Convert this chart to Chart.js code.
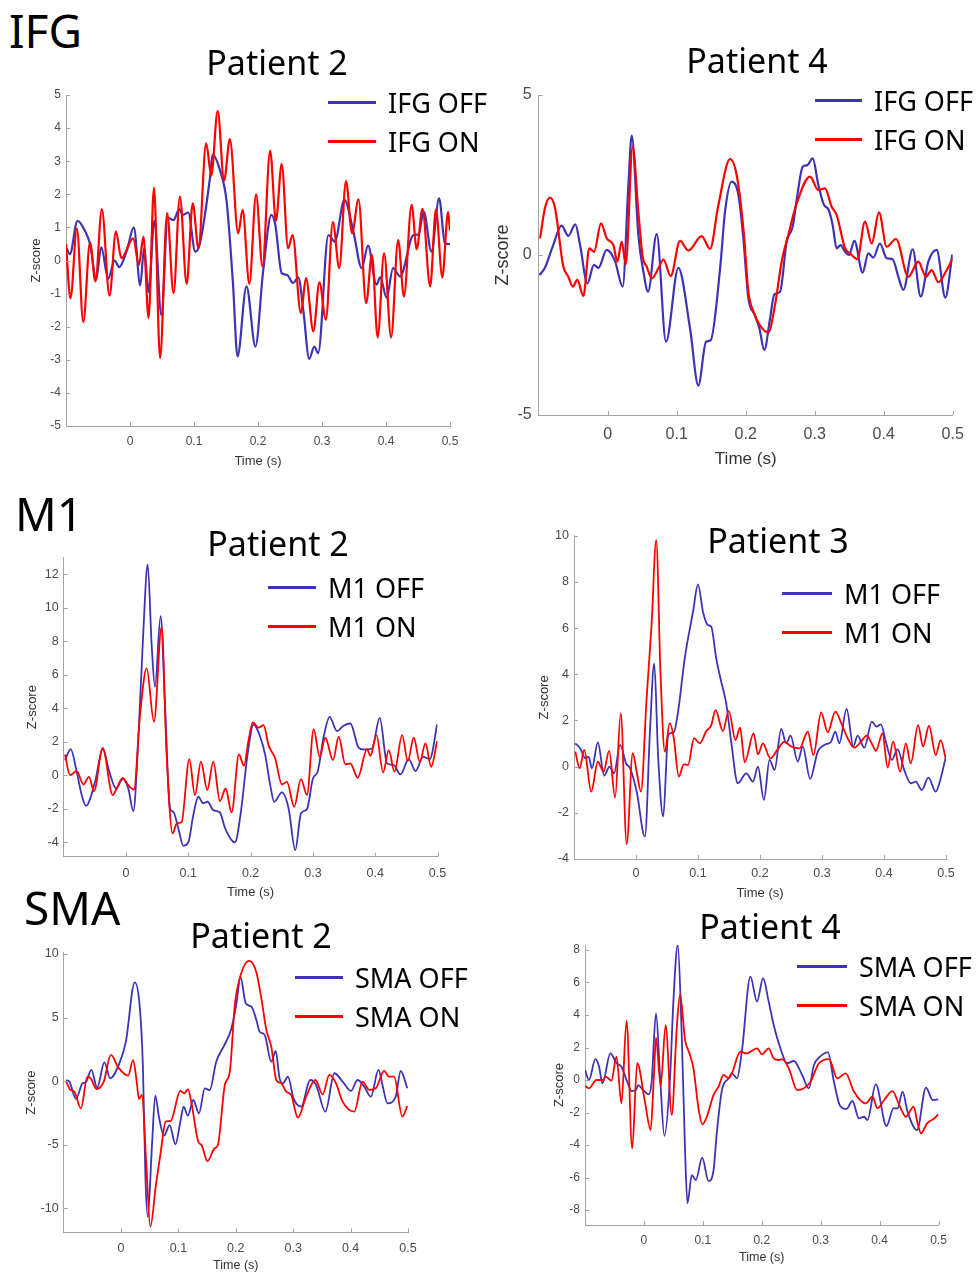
<!DOCTYPE html>
<html>
<head>
<meta charset="utf-8">
<title>IFG / M1 / SMA z-scores</title>
<script src="https://cdn.jsdelivr.net/npm/chart.js@4.4.1/dist/chart.umd.min.js"></script>
<style>
  html, body { margin: 0; padding: 0; background: #fff; overflow: hidden; }
  #page { position: relative; width: 978px; height: 1275px; background: #fff; font-family: 'Noto Sans', sans-serif; color: #000; }
  #page canvas { position: absolute; z-index: 1; }
  .txt { position: absolute; white-space: nowrap; line-height: 1; z-index: 2; }
  .key { position: absolute; z-index: 2; }
</style>
</head>
<body>
<div id="page"></div>
<script>
/* =====================================================
   Six z-score traces (OFF = blue, ON = red), time in s
   ===================================================== */

// ---- IFG, patient 2 ----
const ifgP2OffT = [-0.099,-0.094,-0.082,-0.070,-0.062,-0.053,-0.045,-0.034,-0.024,-0.017,
  -0.005,0.006,0.016,0.022,0.029,0.038,0.049,0.059,0.068,0.077,
  0.083,0.091,0.102,0.109,0.125,0.129,0.141,0.151,0.161,0.168,
  0.182,0.196,0.208,0.221,0.227,0.237,0.245,0.255,0.263,0.271,
  0.280,0.288,0.294,0.310,0.320,0.335,0.349,0.362,0.372,0.385,
  0.391,0.401,0.411,0.422,0.443,0.451,0.459,0.471,0.483,0.492,
  0.500];
const ifgP2OffZ = [0.37,0.19,1.2,0.88,0.47,-0.58,0.4,-0.55,0.0,-0.2,
  0.3,1.0,-0.75,0.37,-0.95,1.2,-1.65,1.3,1.22,1.55,
  1.38,1.45,0.27,0.5,2.5,3.2,2.7,1.78,-0.73,-2.9,
  -0.78,-2.6,-0.33,1.38,1.08,-0.38,-0.43,-0.68,-0.51,-1.54,
  -2.97,-2.6,-2.8,0.77,0.57,1.83,0.88,-0.23,0.45,-0.73,
  -0.51,-1.12,-0.23,-0.48,0.77,0.79,1.48,0.27,1.88,0.52,
  0.49];
const ifgP2OnT = [-0.1,-0.093,-0.083,-0.073,-0.0625,-0.054,-0.044,-0.032,-0.022,-0.0135,
  0.005,0.014,0.021,0.029,0.0375,0.047,0.058,0.068,0.078,0.0885,
  0.098,0.107,0.119,0.127,0.137,0.147,0.156,0.169,0.176,0.1865,
  0.197,0.207,0.219,0.228,0.237,0.247,0.254,0.267,0.275,0.2865,
  0.296,0.306,0.317,0.327,0.3375,0.347,0.357,0.369,0.378,0.387,
  0.397,0.408,0.419,0.428,0.44,0.448,0.457,0.469,0.478,0.488,
  0.497,0.5];
const ifgP2OnZ = [0.5,-1.14,0.96,-1.86,0.55,-0.63,1.55,-1.06,0.88,0.07,
  0.67,-0.13,0.72,-1.74,2.2,-2.95,1.43,-0.99,1.93,-0.71,
  1.73,0.37,3.54,2.57,4.52,2.41,3.67,0.82,1.53,-0.71,
  2.0,-0.18,3.32,1.2,2.92,0.37,0.77,-1.59,-0.53,-2.14,
  -0.66,-1.79,1.16,-0.23,2.4,0.82,1.85,-1.29,0.17,-2.32,
  0.22,-2.32,0.62,-1.09,1.68,0.34,1.56,-0.78,1.54,-0.51,
  1.46,0.9];

// ---- IFG, patient 4 ----
const ifgP4OffT = [-0.099,-0.091,-0.079,-0.067,-0.057,-0.047,-0.040,-0.0295,-0.020,-0.0135,
  -0.0014,0.0106,0.0217,0.030,0.0348,0.0444,0.0517,0.0585,0.071,0.0845,
  0.1024,0.1193,0.1314,0.1425,0.1493,0.163,0.170,0.1797,0.1894,0.1966,
  0.2039,0.2135,0.2198,0.227,0.2353,0.2415,0.2498,0.2594,0.2681,0.2749,
  0.2826,0.2894,0.2971,0.3053,0.3135,0.3198,0.326,0.3318,0.3376,0.344,
  0.3497,0.3575,0.3695,0.3777,0.385,0.3946,0.4043,0.413,0.4212,0.4285,
  0.442,0.4536,0.4647,0.4768,0.4893,0.4995];
const ifgP4OffZ = [-0.63,-0.4,0.31,0.92,0.6,0.96,0.31,-0.89,-0.31,-0.4,
  0.16,-0.19,-0.99,2.19,3.73,0.63,-0.52,-1.15,0.65,-2.71,
  -0.4,-2.29,-4.08,-2.71,-2.66,-0.4,1.35,2.29,1.88,0.52,
  -1.35,-1.88,-2.29,-2.97,-1.98,-1.23,-1.15,0.42,0.89,1.88,
  2.76,2.81,3.02,2.19,1.56,1.43,0.94,0.21,0.31,0.1,
  0.0,0.44,-0.55,0.05,-0.08,0.36,-0.1,-0.13,-0.68,-1.09,
  0.18,-1.3,-0.21,0.16,-1.33,0.02];
const ifgP4OnT = [-0.098,-0.091,-0.0836,-0.0763,-0.0643,-0.057,-0.0507,-0.044,-0.0353,-0.0266,
  -0.0198,-0.0097,-0.0014,0.0082,0.014,0.0203,0.0261,0.0362,0.0444,0.0507,
  0.0565,0.0638,0.0734,0.0807,0.0913,0.1048,0.1169,0.1362,0.1483,0.1604,
  0.1773,0.1869,0.1966,0.2039,0.2111,0.2208,0.2328,0.2425,0.2521,0.2618,
  0.2739,0.2932,0.3053,0.3149,0.3246,0.3318,0.344,0.3511,0.3618,0.3729,
  0.3826,0.3932,0.4043,0.4178,0.4357,0.4502,0.4613,0.4695,0.4792,0.4913,
  0.4995];
const ifgP4OnZ = [0.52,1.46,1.79,1.46,-0.36,-0.68,-0.99,-0.78,-1.28,0.21,
  0.1,0.99,0.52,0.31,-0.21,0.42,-0.29,3.39,1.35,-0.05,
  -0.36,-0.73,-0.42,-0.14,-0.66,0.44,0.14,0.59,0.19,1.56,
  3.0,2.5,0.83,-1.15,-1.77,-2.21,-2.42,-1.56,-0.21,0.63,
  1.61,2.45,2.03,2.08,1.51,1.25,0.21,0.05,-0.13,1.04,
  0.36,1.33,0.26,0.5,-0.68,-0.21,-0.68,-0.47,-0.85,-0.47,
  -0.13];

// ---- M1, patient 2 ----
const m1P2OffT = [-0.0979,-0.0888,-0.0791,-0.0711,-0.0642,-0.0497,-0.0374,-0.0267,-0.016,-0.0053,
  0.0037,0.0118,0.0198,0.0278,0.0348,0.0412,0.0465,0.0556,0.0626,0.0706,
  0.0759,0.084,0.092,0.1,0.108,0.116,0.1241,0.131,0.1401,0.1508,
  0.1588,0.1695,0.1749,0.184,0.195,0.2047,0.2154,0.2235,0.2315,0.2379,
  0.2502,0.261,0.2717,0.2808,0.2905,0.3001,0.3076,0.3173,0.3269,0.3387,
  0.3494,0.3601,0.3735,0.3816,0.3949,0.4073,0.419,0.4298,0.4405,0.4539,
  0.4646,0.477,0.4877,0.4994];
const m1P2OffZ = [0.91,1.56,0.21,-1.18,-1.82,-0.39,1.56,0.21,-0.79,-0.23,
  -0.79,-2.14,2.2,8.57,12.59,7.77,5.28,9.5,4.19,-1.98,
  -2.18,-3.17,-4.21,-4.01,-2.38,-1.28,-1.68,-1.58,-2.08,-2.22,
  -3.13,-3.87,-4.01,-2.3,1.2,3.03,2.3,1.2,-0.59,-1.58,
  -1.02,-1.98,-4.47,-2.28,-2.02,-0.19,0.21,2.3,3.49,2.64,
  2.96,3.09,1.64,1.54,1.6,3.43,0.71,0.61,0.05,0.97,
  0.25,1.1,0.97,3.03];
const m1P2OnT = [-0.0979,-0.0898,-0.0791,-0.0684,-0.0594,-0.0513,-0.0374,-0.0214,-0.015,-0.0053,
  0.0037,0.0128,0.0225,0.0332,0.0449,0.0572,0.0652,0.0749,0.0813,0.0893,
  0.1016,0.1107,0.1203,0.1305,0.1401,0.1508,0.1599,0.1695,0.1813,0.1893,
  0.1967,0.2037,0.2127,0.2208,0.2288,0.2395,0.2502,0.2583,0.27,0.2808,
  0.2905,0.3012,0.3108,0.3199,0.3323,0.3414,0.3521,0.3601,0.3719,0.3869,
  0.3923,0.402,0.4127,0.4218,0.4309,0.4432,0.4523,0.4619,0.4716,0.4807,
  0.4898,0.4994];
const m1P2OnZ = [1.24,0.01,0.25,-0.55,-0.09,-0.95,1.64,-1.18,-0.79,-0.15,
  -0.59,-0.85,3.6,6.38,3.19,8.87,1.2,-3.47,-2.88,-2.78,
  0.97,-1.18,0.81,-0.89,0.81,-1.54,-0.79,-2.22,1.24,0.57,
  2.1,3.15,2.84,2.99,1.8,1.0,-0.55,-0.39,-1.88,-0.23,
  -1.18,2.76,1.1,2.24,0.9,2.3,0.65,0.71,-0.15,1.56,
  1.16,2.4,0.17,1.5,0.21,2.4,0.85,2.24,0.8,1.9,
  0.51,2.04];

// ---- M1, patient 3 ----
const m1P3OffT = [-0.0979,-0.0898,-0.0818,-0.0765,-0.0711,-0.0615,-0.0513,-0.0428,-0.0353,-0.0257,
  -0.016,-0.0096,0.0011,0.0144,0.0225,0.0294,0.0358,0.0439,0.0519,0.061,
  0.0679,0.0786,0.092,0.1,0.108,0.116,0.1214,0.1294,0.1374,0.1455,
  0.1535,0.1642,0.1779,0.1887,0.1967,0.2063,0.2154,0.2235,0.2342,0.2422,
  0.2492,0.261,0.269,0.2808,0.2932,0.3039,0.3146,0.3215,0.328,0.3397,
  0.3505,0.3574,0.3682,0.3805,0.388,0.395,0.403,0.4127,0.4218,0.4325,
  0.4432,0.4513,0.4609,0.4716,0.4834,0.4914,0.4994];
const m1P3OffZ = [1.01,0.79,0.36,0.43,-0.07,1.05,-0.39,0.0,-0.29,0.94,
  0.14,-0.07,-1.08,-3.03,1.52,4.47,0.36,-2.16,1.37,1.49,
  2.38,4.69,6.71,7.89,6.71,6.13,6.06,4.69,3.68,2.74,
  1.08,-0.72,-0.29,-0.65,0.0,-1.44,0.29,-0.14,1.63,1.01,
  1.34,0.22,0.87,-0.53,0.65,0.94,1.08,1.52,1.01,2.5,
  0.87,1.34,0.82,1.95,1.73,1.83,1.08,0.29,0.76,-0.14,
  -0.72,-0.65,-1.01,-0.48,-1.08,-0.51,0.39];
const m1P3OnT = [-0.0979,-0.0909,-0.0834,-0.0722,-0.0615,-0.0524,-0.0433,-0.0337,-0.0246,-0.015,
  -0.0053,0.0011,0.008,0.0171,0.0251,0.0326,0.0396,0.0465,0.0545,0.061,
  0.069,0.077,0.084,0.0936,0.1027,0.1134,0.1214,0.1283,0.1401,0.1497,
  0.1604,0.1679,0.1753,0.1897,0.1967,0.2047,0.2165,0.2288,0.2395,0.2502,
  0.2637,0.2771,0.2862,0.2986,0.3092,0.3215,0.3333,0.3414,0.3521,0.3628,
  0.3719,0.3815,0.3869,0.3976,0.4057,0.4148,0.426,0.4352,0.4432,0.455,
  0.463,0.4727,0.4834,0.4914,0.4994];
const m1P3OnZ = [0.65,-0.07,0.72,-1.08,0.22,-0.22,0.68,-1.34,2.31,-3.36,
  0.58,-0.22,-1.08,2.96,6.13,9.81,3.97,0.65,1.88,1.23,
  -0.43,0.1,0.07,1.23,1.01,1.54,1.8,2.45,1.54,2.41,
  1.15,1.69,0.19,1.44,0.53,1.01,0.36,0.76,1.08,0.87,
  0.79,1.52,0.5,2.35,1.49,2.38,1.73,1.23,0.82,1.08,
  1.34,0.94,0.68,1.44,-0.04,1.08,-0.22,1.01,0.14,1.8,
  0.87,1.77,0.5,1.15,0.36];

// ---- SMA, patient 2 ----
const smaP2OffT = [-0.0955,-0.0898,-0.0784,-0.067,-0.0614,-0.0517,-0.0415,-0.029,-0.0188,-0.0017,
  0.0085,0.0239,0.0324,0.0381,0.0426,0.0466,0.054,0.0597,0.0665,0.075,
  0.0847,0.0949,0.1034,0.1091,0.1165,0.1261,0.1358,0.146,0.1545,0.1659,
  0.1801,0.1915,0.2012,0.2081,0.2173,0.2272,0.2358,0.2416,0.2503,0.2618,
  0.2694,0.2763,0.2821,0.2908,0.3006,0.3139,0.3295,0.3399,0.3561,0.3717,
  0.3861,0.4006,0.4121,0.4237,0.4353,0.4486,0.4555,0.4642,0.4786,0.4873,
  0.4988];
const smaP2OffZ = [0.09,-0.04,-1.4,-0.17,-0.09,0.88,-0.51,1.48,0.22,1.53,
  3.11,7.77,5.99,1.27,-7.64,-10.66,-5.02,-1.14,-2.92,-4.29,
  -3.45,-4.97,-3.18,-2.01,-2.71,-1.48,-2.53,-0.56,-0.7,1.53,
  2.84,4.02,6.12,8.22,6.12,5.86,4.81,3.89,3.63,1.53,
  2.37,0.22,-0.17,0.35,-1.36,-2.01,0.09,-0.3,-2.4,0.62,
  -0.04,-0.77,0.09,-0.43,-1.22,0.88,-0.3,-1.74,-1.22,0.8,
  -0.56];
const smaP2OnT = [-0.0955,-0.0881,-0.0813,-0.0699,-0.0585,-0.0528,-0.0426,-0.0301,-0.0176,-0.0045,
  0.0125,0.021,0.0267,0.0313,0.0364,0.0438,0.0511,0.0608,0.0693,0.0778,
  0.0864,0.1034,0.1102,0.1165,0.1233,0.1347,0.1403,0.1506,0.1631,0.1688,
  0.1809,0.1896,0.1983,0.2069,0.2231,0.2358,0.2445,0.2532,0.2618,0.2705,
  0.2792,0.2879,0.2965,0.3081,0.3225,0.3387,0.3514,0.363,0.3746,0.3861,
  0.4064,0.4208,0.4324,0.4439,0.4584,0.4671,0.4757,0.4902,0.4988];
const smaP2OnZ = [-0.04,-0.69,-0.83,-2.14,0.35,0.22,-0.62,-0.04,2.06,1.06,
  0.43,1.66,0.22,-1.4,-1.09,-6.33,-11.44,-8.17,-5.54,-3.18,
  -3.13,-0.77,-0.96,-0.62,-1.87,-4.76,-5.02,-6.28,-5.28,-5.02,
  -0.3,0.75,5.99,8.09,9.45,8.56,6.51,4.02,2.71,0.09,
  -0.17,-0.83,-1.09,-2.87,-1.22,0.09,-1.04,0.49,-0.17,-1.61,
  -2.4,-0.04,-0.69,-0.56,0.8,0.35,0.35,-2.79,-1.95];

// ---- SMA, patient 4 ----
const smaP4OffT = [-0.1,-0.0932,-0.0824,-0.0761,-0.0705,-0.0568,-0.0466,-0.0381,-0.0284,-0.021,
  -0.0136,-0.0097,-0.0011,0.0085,0.0131,0.0205,0.0273,0.0347,0.0443,0.05,
  0.0574,0.0642,0.0699,0.0739,0.0813,0.0881,0.0989,0.1097,0.1182,0.1239,
  0.1324,0.1438,0.1494,0.158,0.1665,0.1807,0.192,0.2022,0.2118,0.2203,
  0.2317,0.2431,0.2544,0.2686,0.2799,0.2885,0.297,0.3123,0.3225,0.3328,
  0.3441,0.3538,0.3651,0.3736,0.3794,0.3935,0.4117,0.4237,0.4305,0.439,
  0.4475,0.4635,0.4788,0.4902,0.5];
const smaP4OffZ = [0.62,0.0,1.29,0.82,-0.21,1.64,1.03,0.82,-0.1,-0.68,
  -0.62,-0.31,-0.62,-0.88,-0.1,4.1,0.31,-3.43,0.1,4.82,
  8.31,2.77,-4.41,-7.59,-5.85,-6.15,-4.78,-6.22,-5.54,-3.18,
  -0.62,0.1,0.41,0.1,1.85,6.36,4.82,6.26,4.82,3.38,
  1.95,1.03,1.17,0.31,-0.51,0.92,1.37,1.7,-0.1,-1.58,
  -1.78,-1.29,-2.36,-2.26,-2.46,-0.27,-2.83,-1.74,-1.74,-0.72,
  -1.95,-3.08,-0.47,-1.23,-1.19];
const smaP4OnT = [-0.1,-0.0932,-0.0807,-0.0693,-0.0648,-0.0551,-0.0466,-0.0381,-0.0295,-0.0199,
  -0.0114,0.0017,0.0114,0.017,0.0205,0.0284,0.0369,0.0472,0.0557,0.0614,
  0.0699,0.0773,0.0841,0.0926,0.0994,0.1068,0.1182,0.1267,0.1352,0.1438,
  0.1494,0.1636,0.1749,0.192,0.2005,0.2118,0.2203,0.2289,0.2345,0.2459,
  0.2601,0.2715,0.2828,0.297,0.3141,0.3282,0.3424,0.3566,0.3765,0.3879,
  0.3964,0.4077,0.4219,0.4333,0.4447,0.4578,0.4646,0.4703,0.4805,0.493,
  0.5];
const smaP4OnZ = [-0.35,-0.51,0.0,0.0,0.21,-0.04,1.44,-1.44,3.63,-4.21,
  1.03,-1.33,-3.08,0.31,2.61,-0.35,3.38,-2.15,3.18,5.27,
  2.46,1.64,0.72,-1.74,-2.73,-2.26,-0.92,-0.41,0.31,0.1,
  0.41,1.74,1.64,1.95,1.58,1.95,1.33,1.23,1.29,0.72,
  -0.62,-0.51,-0.1,1.03,1.29,0.1,0.41,-0.72,-1.44,-1.03,
  -1.74,-1.23,-0.68,-1.54,-2.26,-1.64,-2.67,-3.28,-2.67,-2.36,
  -2.11];

// axis ticks shared by every panel
const timeTicks = [0, 0.1, 0.2, 0.3, 0.4, 0.5];

/* ===================================================
   Styling
   =================================================== */
const BLUE = '#3d33b5';
const RED = '#ff0000';
const AXIS = '#a3a3a3';
const TICK_TXT = '#4a4a4a';
const LABEL_TXT = '#333';
const TICK_FONT = "'Liberation Sans', Arial, Helvetica, sans-serif";

const page = document.getElementById('page');

// small inward tick marks, like the original figure
const inwardTicks = {
  id: 'inwardTicks',
  afterDraw(chart) {
    const { ctx, chartArea, scales } = chart;
    ctx.save();
    ctx.strokeStyle = AXIS;
    ctx.lineWidth = 1;
    ctx.beginPath();
    scales.x.ticks.forEach(t => {
      const px = Math.round(scales.x.getPixelForValue(t.value)) + 0.5;
      ctx.moveTo(px, chartArea.bottom);
      ctx.lineTo(px, chartArea.bottom - 4);
    });
    scales.y.ticks.forEach(t => {
      const py = Math.round(scales.y.getPixelForValue(t.value)) + 0.5;
      ctx.moveTo(chartArea.left, py);
      ctx.lineTo(chartArea.left + 4, py);
    });
    ctx.stroke();
    ctx.restore();
  }
};

const toPts = (t, z) => t.map((x, i) => ({ x, y: z[i] }));

function addText(text, x, y, size, centered) {
  const d = document.createElement('div');
  d.className = 'txt';
  d.textContent = text;
  d.style.left = x + 'px';
  d.style.top = y + 'px';
  d.style.fontSize = size + 'px';
  d.style.transform = centered ? 'translate(-50%, -50%)' : 'translateY(-50%)';
  page.appendChild(d);
}

function addKey(x1, x2, y, color) {
  const d = document.createElement('div');
  d.className = 'key';
  d.style.left = x1 + 'px';
  d.style.top = (y - 1.5) + 'px';
  d.style.width = (x2 - x1) + 'px';
  d.style.height = '3px';
  d.style.background = color;
  page.appendChild(d);
}

/* ===================================================
   One panel = one canvas; plot box placed in page px
   =================================================== */
function makePanel(p) {
  const lhY = p.yTitleSize * 1.2;
  const lhX = p.xTitleSize * 1.2;
  const cLeft = Math.round(p.yTitleX - lhY / 2);
  const cTop = Math.round(p.top - 20);
  const cRight = Math.round(p.right + 30);
  const cBottom = Math.round(p.xTitleY + lhX / 2);

  const canvas = document.createElement('canvas');
  canvas.width = cRight - cLeft;
  canvas.height = cBottom - cTop;
  canvas.style.left = cLeft + 'px';
  canvas.style.top = cTop + 'px';
  canvas.style.width = canvas.width + 'px';
  canvas.style.height = canvas.height + 'px';
  page.appendChild(canvas);

  new Chart(canvas, {
    type: 'line',
    data: {
      datasets: [
        {
          label: p.keys[0],
          data: toPts(p.offT, p.offZ),
          borderColor: BLUE,
          borderWidth: p.lineW,
          order: 1
        },
        {
          label: p.keys[1],
          data: toPts(p.onT, p.onZ),
          borderColor: RED,
          borderWidth: p.lineW,
          order: 0
        }
      ]
    },
    options: {
      responsive: false,
      animation: false,
      devicePixelRatio: 1,
      layout: { padding: { left: 0, top: p.top - cTop, right: cRight - p.right, bottom: 0 } },
      elements: {
        point: { radius: 0 },
        line: { cubicInterpolationMode: 'monotone', fill: false }
      },
      plugins: { legend: { display: false }, tooltip: { enabled: false } },
      scales: {
        x: {
          type: 'linear',
          min: -0.1,
          max: 0.5,
          grid: { display: false, drawTicks: false },
          border: { color: AXIS, width: 1 },
          ticks: {
            stepSize: 0.1,
            padding: p.xTickPad,
            color: TICK_TXT,
            font: { family: TICK_FONT, size: p.tickSize },
            callback: (v) => (Math.abs(v) < 1e-9 ? '0' : String(+v.toFixed(2)))
          },
          afterBuildTicks: (s) => {
            s.ticks = timeTicks.map(v => ({ value: v }));
          },
          title: {
            display: true,
            text: 'Time (s)',
            padding: 0,
            color: LABEL_TXT,
            font: { family: TICK_FONT, size: p.xTitleSize }
          },
          afterFit: (s) => { s.height = cBottom - p.bottom; }
        },
        y: {
          type: 'linear',
          min: p.yMin,
          max: p.yMax,
          grid: { display: false, drawTicks: false },
          border: { color: AXIS, width: 1 },
          ticks: {
            stepSize: p.yStep,
            includeBounds: false,
            padding: p.yTickPad,
            color: TICK_TXT,
            font: { family: TICK_FONT, size: p.tickSize }
          },
          title: {
            display: true,
            text: 'Z-score',
            padding: 0,
            color: LABEL_TXT,
            font: { family: TICK_FONT, size: p.yTitleSize }
          },
          afterFit: (s) => { s.width = p.left - cLeft; }
        }
      }
    },
    plugins: [inwardTicks]
  });

  addText(p.title, p.titleX, p.titleY, 34, true);
  addKey(p.keyX1, p.keyX2, p.keyY1, BLUE);
  addKey(p.keyX1, p.keyX2, p.keyY2, RED);
  addText(p.keys[0], p.keyX2 + 12, p.keyY1, 27, false);
  addText(p.keys[1], p.keyX2 + 12, p.keyY2, 27, false);
}

/* ===================================================
   Section labels and the six panels
   =================================================== */
addText('IFG', 9, 30, 46, false);
addText('M1', 15, 513, 46, false);
addText('SMA', 24, 907, 46, false);

document.addEventListener('DOMContentLoaded', () => {
  makePanel({
    title: 'Patient 2', titleX: 277, titleY: 62,
    keys: ['IFG OFF', 'IFG ON'], keyX1: 328, keyX2: 376, keyY1: 102, keyY2: 141,
    offT: ifgP2OffT, offZ: ifgP2OffZ, onT: ifgP2OnT, onZ: ifgP2OnZ,
    left: 66, right: 450, top: 95, bottom: 426,
    yMin: -5, yMax: 5, yStep: 1, tickSize: 12, xTickPad: 8, yTickPad: 5,
    yTitleX: 37, yTitleSize: 13, xTitleY: 461, xTitleSize: 13, lineW: 2.2
  });
  makePanel({
    title: 'Patient 4', titleX: 757, titleY: 60,
    keys: ['IFG OFF', 'IFG ON'], keyX1: 815, keyX2: 862, keyY1: 100, keyY2: 139,
    offT: ifgP4OffT, offZ: ifgP4OffZ, onT: ifgP4OnT, onZ: ifgP4OnZ,
    left: 538.7, right: 952.7, top: 95, bottom: 415,
    yMin: -5, yMax: 5, yStep: 5, tickSize: 16, xTickPad: 10, yTickPad: 7,
    yTitleX: 503, yTitleSize: 18, xTitleY: 460, xTitleSize: 17, lineW: 2.2
  });
  makePanel({
    title: 'Patient 2', titleX: 278, titleY: 543,
    keys: ['M1 OFF', 'M1 ON'], keyX1: 268, keyX2: 316, keyY1: 587, keyY2: 626,
    offT: m1P2OffT, offZ: m1P2OffZ, onT: m1P2OnT, onZ: m1P2OnZ,
    left: 63.7, right: 437.5, top: 557.5, bottom: 856.7,
    yMin: -4.86, yMax: 13, yStep: 2, tickSize: 12.5, xTickPad: 9, yTickPad: 5,
    yTitleX: 33, yTitleSize: 13, xTitleY: 892, xTitleSize: 13, lineW: 1.8
  });
  makePanel({
    title: 'Patient 3', titleX: 778, titleY: 540,
    keys: ['M1 OFF', 'M1 ON'], keyX1: 782, keyX2: 832, keyY1: 593, keyY2: 632,
    offT: m1P3OffT, offZ: m1P3OffZ, onT: m1P3OnT, onZ: m1P3OnZ,
    left: 574, right: 946, top: 535.7, bottom: 859,
    yMin: -4, yMax: 10, yStep: 2, tickSize: 12.5, xTickPad: 7, yTickPad: 5,
    yTitleX: 545, yTitleSize: 13, xTitleY: 893, xTitleSize: 13, lineW: 1.8
  });
  makePanel({
    title: 'Patient 2', titleX: 261, titleY: 935,
    keys: ['SMA OFF', 'SMA ON'], keyX1: 295, keyX2: 343, keyY1: 977, keyY2: 1016,
    offT: smaP2OffT, offZ: smaP2OffZ, onT: smaP2OnT, onZ: smaP2OnZ,
    left: 63.6, right: 408, top: 952.7, bottom: 1232.5,
    yMin: -11.9, yMax: 10.1, yStep: 5, tickSize: 12.5, xTickPad: 9, yTickPad: 5,
    yTitleX: 32, yTitleSize: 13, xTitleY: 1265, xTitleSize: 12.5, lineW: 1.8
  });
  makePanel({
    title: 'Patient 4', titleX: 770, titleY: 926,
    keys: ['SMA OFF', 'SMA ON'], keyX1: 797, keyX2: 847, keyY1: 966, keyY2: 1005,
    offT: smaP4OffT, offZ: smaP4OffZ, onT: smaP4OnT, onZ: smaP4OnZ,
    left: 585, right: 938.5, top: 945.1, bottom: 1225,
    yMin: -8.92, yMax: 8.3, yStep: 2, tickSize: 12, xTickPad: 8, yTickPad: 5,
    yTitleX: 560, yTitleSize: 13, xTitleY: 1257, xTitleSize: 12.5, lineW: 1.8
  });
});
</script>
</body>
</html>
